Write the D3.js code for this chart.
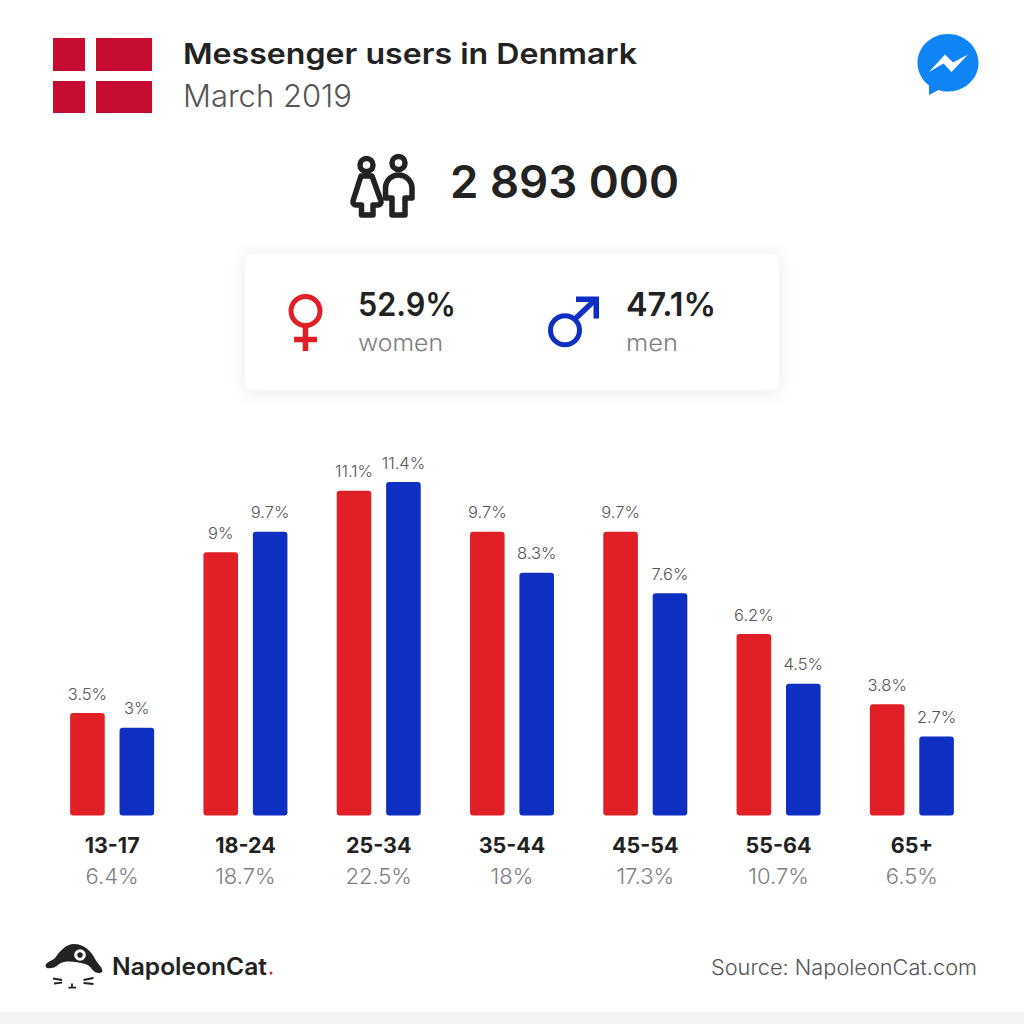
<!DOCTYPE html>
<html lang="en">
<head>
<meta charset="UTF-8">
<title>Messenger users in Denmark</title>
<script src="https://d3js.org/d3.v7.min.js"></script>
<style>
  * { margin: 0; padding: 0; }
  body { background: #fff; width: 1024px; height: 1024px; overflow: hidden; }
  svg { display: block; }
  text { font-family: Inter, "Open Sans", sans-serif; }
  .dark { fill: #222; }
  .grey { fill: #808080; font-weight: 300; }
</style>
</head>
<body>
<svg id="chart" width="1024" height="1024"></svg>
<script>
// values
var ageGroups = ["13-17", "18-24", "25-34", "35-44", "45-54", "55-64", "65+"];
var women = [3.5, 9, 11.1, 9.7, 9.7, 6.2, 3.8];
var men = [3, 9.7, 11.4, 8.3, 7.6, 4.5, 2.7];
var totals = [6.4, 18.7, 22.5, 18, 17.3, 10.7, 6.5];
var seriesNames = ["women", "men"];
var seriesColors = ["#e01f26", "#0e2fc2"];

var svg = d3.select("#chart");

var defs = svg.append("defs");
var shadow = defs.append("filter").attr("id", "shadow")
  .attr("x", "-10%").attr("y", "-30%").attr("width", "120%").attr("height", "160%");
shadow.append("feDropShadow").attr("dx", 0).attr("dy", 2).attr("stdDeviation", 9)
  .attr("flood-color", "#000").attr("flood-opacity", 0.09);

// bottom strip
svg.append("rect").attr("x", 0).attr("y", 1012).attr("width", 1024).attr("height", 12).attr("fill", "#f3f3f3");

// flag
var flag = svg.append("g");
flag.append("rect").attr("x", 52.500).attr("y", 37.500).attr("width", 100).attr("height", 76).attr("fill", "#f1f1f1");
flag.append("rect").attr("x", 53).attr("y", 38).attr("width", 99).attr("height", 75).attr("fill", "#c60c30");
flag.append("rect").attr("x", 85).attr("y", 38).attr("width", 11).attr("height", 75).attr("fill", "#fff");
flag.append("rect").attr("x", 53).attr("y", 71).attr("width", 99).attr("height", 10).attr("fill", "#fff");

// header
svg.append("text").attr("class", "dark").attr("x", 183).attr("y", 64)
  .attr("font-size", 29).attr("font-weight", 600).attr("textLength", 454).attr("lengthAdjust", "spacingAndGlyphs")
  .text("Messenger users in Denmark");
svg.append("text").attr("x", 183).attr("y", 107).attr("fill", "#555").attr("font-weight", 300)
  .attr("font-size", 31).attr("textLength", 169).attr("lengthAdjust", "spacingAndGlyphs")
  .text("March 2019");

// messenger icon
var msg = svg.append("g");
msg.append("path").attr("fill", "#0f84f4")
  .attr("d", "M948 34C931 34 917.500 47 917.500 63C917.500 72 922 80 929 85.500L929 95L938.500 90C941.500 91 944.700 91.500 948 91.500C965 91.500 978.500 78.500 978.500 63C978.500 47 965 34 948 34Z");
msg.append("path").attr("fill", "#fff")
  .attr("d", "M929 72L945 54.500L953 62.500L968 54.500L951.500 72L943.500 63.500Z");

// people icon
var people = svg.append("g").attr("fill", "none").attr("stroke", "#222").attr("stroke-width", 5.500).attr("stroke-linejoin", "round");
people.append("circle").attr("cx", 366.500).attr("cy", 165).attr("r", 6.500);
people.append("circle").attr("cx", 398.500).attr("cy", 163).attr("r", 6.500);
people.append("path").attr("d", "M361 176L372 176L381 201C381.500 203 380 205 378 205L373 205L373 215L361.500 215L361.500 205L356 205C354 205 352.500 203 353 201Z");
people.append("path").attr("d", "M398.500 175C406 175 412 181 412 188L412 198L405 198L405 215L392 215L392 198L385.500 198L385.500 188C385.500 181 391 175 398.500 175Z");

svg.append("text").attr("class", "dark").attr("x", 450).attr("y", 198)
  .attr("font-size", 45).attr("font-weight", 600).attr("textLength", 229).attr("lengthAdjust", "spacingAndGlyphs")
  .text("2 893 000");

// gender card
svg.append("rect").attr("x", 245).attr("y", 254).attr("width", 534).attr("height", 136).attr("rx", 7)
  .attr("fill", "#fff").attr("filter", "url(#shadow)");

var female = svg.append("g").attr("fill", "none").attr("stroke", seriesColors[0]).attr("stroke-width", 5);
female.append("circle").attr("cx", 305.500).attr("cy", 311).attr("r", 14.500);
female.append("path").attr("stroke-width", 5.500).attr("d", "M305.500 325V351M294 339.500H317");

var male = svg.append("g").attr("fill", "none").attr("stroke", seriesColors[1]).attr("stroke-width", 5);
male.append("circle").attr("cx", 565).attr("cy", 330.300).attr("r", 14.500);
male.append("path").attr("stroke-width", 5.500).attr("d", "M575 319L596 299");
male.append("path").attr("stroke", "none").attr("fill", seriesColors[1]).attr("d", "M576 296.500H599V318.500L593.500 318.500L593.500 302L576 302Z");

svg.append("text").attr("class", "dark").attr("x", 358).attr("y", 316).attr("font-size", 32).attr("font-weight", 600)
  .attr("textLength", 98).attr("lengthAdjust", "spacingAndGlyphs").text("52.9%");
svg.append("text").attr("class", "grey").attr("x", 358).attr("y", 351).attr("font-size", 23)
  .attr("textLength", 85).attr("lengthAdjust", "spacingAndGlyphs").text(seriesNames[0]);
svg.append("text").attr("class", "dark").attr("x", 626).attr("y", 316).attr("font-size", 32).attr("font-weight", 600)
  .attr("textLength", 90).attr("lengthAdjust", "spacingAndGlyphs").text("47.1%");
svg.append("text").attr("class", "grey").attr("x", 626).attr("y", 351).attr("font-size", 23)
  .attr("textLength", 52).attr("lengthAdjust", "spacingAndGlyphs").text(seriesNames[1]);

// bars
var x0 = d3.scaleBand().domain(ageGroups).range([45.500, 978.500]);
var x1 = d3.scaleBand().domain(seriesNames).range([x0.bandwidth() / 2 - 42, x0.bandwidth() / 2 + 42]).paddingInner(0.3).paddingOuter(0);
var y = d3.scaleLinear().domain([0, 11.4]).range([815.500, 482]);

var rows = ageGroups.map(function(d, i) {
  return { age: d, total: totals[i], vals: [
    { s: seriesNames[0], v: women[i], c: seriesColors[0] },
    { s: seriesNames[1], v: men[i], c: seriesColors[1] }
  ]};
});

var groups = svg.selectAll(".group").data(rows).enter().append("g")
  .attr("class", "group")
  .attr("transform", function(d) { return "translate(" + x0(d.age) + ",0)"; });

groups.selectAll("rect").data(function(d) { return d.vals; }).enter().append("rect")
  .attr("x", function(d) { return x1(d.s); })
  .attr("y", function(d) { return y(d.v); })
  .attr("width", x1.bandwidth())
  .attr("height", function(d) { return y(0) - y(d.v); })
  .attr("rx", 3)
  .attr("fill", function(d) { return d.c; });

groups.selectAll("text.val").data(function(d) { return d.vals; }).enter().append("text")
  .attr("class", "val")
  .attr("x", function(d) { return x1(d.s) + x1.bandwidth() / 2; })
  .attr("y", function(d) { return y(d.v) - 13.500; })
  .attr("text-anchor", "middle")
  .attr("font-size", 16.500)
  .attr("font-weight", 300)
  .attr("fill", "#555")
  .text(function(d) { return d.v + "%"; });

// age labels
var axis = d3.axisBottom(x0).tickSize(0).tickPadding(0);
var axisG = svg.append("g").attr("transform", "translate(0,837.500)").call(axis);
axisG.select(".domain").remove();
axisG.selectAll("text").attr("class", "dark").attr("font-size", 21.500).attr("font-weight", 700)
  .style("font-family", "Inter, sans-serif");

groups.append("text")
  .attr("class", "grey")
  .attr("x", x0.bandwidth() / 2)
  .attr("y", 884)
  .attr("text-anchor", "middle")
  .attr("font-size", 22)
  .text(function(d) { return d.total + "%"; });

// logo
var logo = svg.append("g");
logo.append("path").attr("fill", "#222")
  .attr("d", "M45.500 966C45.500 962 52 961 55 958C60 951 66 944 74 944C84 944 91 951 95 959C98 964 102 967 102.500 971C101.500 973.500 98 973.500 95 972C91 969 90 965 85 964C78 962 70 961 64 962C59 963 58 966 54 967.500C50 968.500 46 969 45.500 966Z");
logo.append("circle").attr("cx", 80).attr("cy", 955).attr("r", 5.800).attr("fill", "#fff");
logo.append("circle").attr("cx", 80).attr("cy", 955).attr("r", 2.700).attr("fill", "#222");
logo.append("path").attr("stroke", "#222").attr("stroke-width", 1.800).attr("fill", "none")
  .attr("d", "M53 978.500L62 980M54 983.500L62 982.700M83.500 980L93.500 978M83.500 983L93.500 984M68.500 987.700H76M72 983.500V987.700");
svg.append("text").attr("class", "dark").attr("x", 112).attr("y", 975).attr("font-size", 24).attr("font-weight", 600)
  .attr("textLength", 155).attr("lengthAdjust", "spacingAndGlyphs").text("NapoleonCat");
svg.append("circle").attr("cx", 271).attr("cy", 973).attr("r", 1.500).attr("fill", seriesColors[0]);

svg.append("text").attr("x", 977).attr("y", 975).attr("text-anchor", "end").attr("fill", "#555").attr("font-weight", 300)
  .attr("font-size", 21).attr("textLength", 266).attr("lengthAdjust", "spacingAndGlyphs").text("Source: NapoleonCat.com");
</script>
</body>
</html>
